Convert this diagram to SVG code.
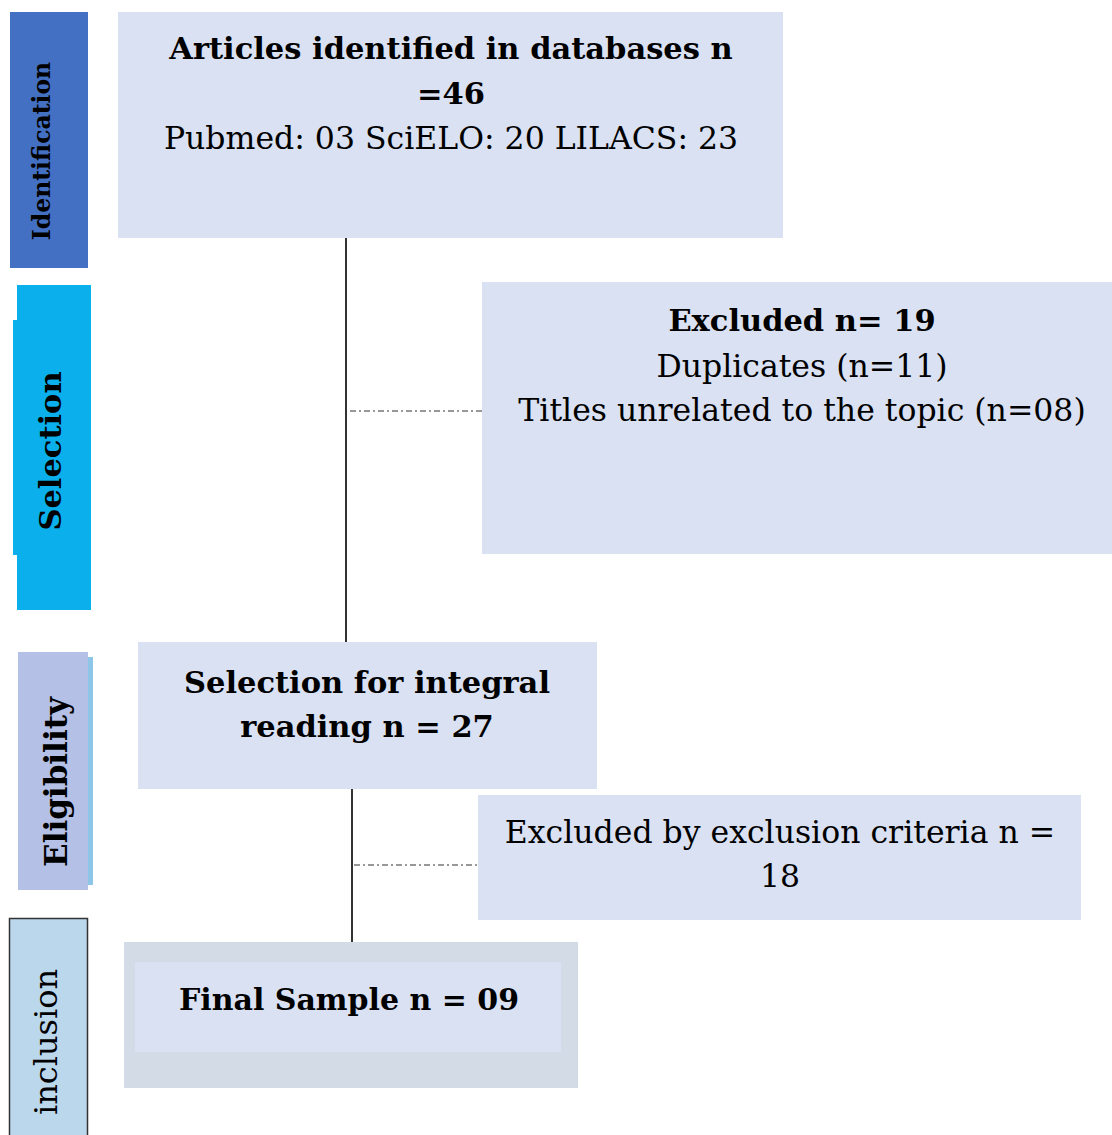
<svg xmlns="http://www.w3.org/2000/svg" width="1112" height="1135" viewBox="0 0 1112 1135">
<style>
.t{font-family:"DejaVu Serif","Liberation Serif",serif;fill:#000;text-anchor:middle;font-size:31.5px}
.b{font-weight:bold;font-size:30.5px}
.box{fill:#D9E1F2}
.side{font-family:"DejaVu Serif","Liberation Serif",serif;fill:#000;text-anchor:middle}
.sb{font-weight:bold}
</style>
<rect width="1112" height="1135" fill="#fff"/>
<g id="stage-identification">
<rect x="10" y="12" width="78" height="256" fill="#4470C4"/>
<text class="side sb" font-size="23.5" transform="translate(50,151) rotate(-90)">Identification</text>
</g>
<g id="stage-selection">
<rect x="17" y="285" width="74" height="325" fill="#0AAFEC"/>
<rect x="13" y="320" width="10" height="235" fill="#0AAFEC"/>
<text class="side sb" font-size="30.5" transform="translate(61,451) rotate(-90)">Selection</text>
</g>
<g id="stage-eligibility">
<rect x="88" y="657" width="5" height="228" fill="#8EC6E8"/>
<rect x="18" y="652" width="70" height="238" fill="#B4C0E6"/>
<text class="side sb" font-size="31" transform="translate(67,782) rotate(-90)">Eligibility</text>
</g>
<g id="stage-inclusion">
<rect x="9.5" y="918.5" width="78" height="220" fill="#BBD7EC" stroke="#333" stroke-width="1.5"/>
<text class="side" font-size="32" transform="translate(57,1042) rotate(-90)">inclusion</text>
</g>
<g id="connectors" fill="none">
<line x1="346" y1="238" x2="346" y2="642" stroke="#333" stroke-width="2"/>
<line x1="350" y1="411" x2="482" y2="411" stroke="#777" stroke-width="1.5" stroke-dasharray="6,3,2,3"/>
<line x1="352" y1="789" x2="352" y2="942" stroke="#333" stroke-width="2"/>
<line x1="354" y1="865" x2="478" y2="865" stroke="#777" stroke-width="1.5" stroke-dasharray="6,3,2,3"/>
</g>
<g id="node-identified">
<rect class="box" x="118" y="12" width="665" height="226"/>
<text class="t b" x="451" y="59">Articles identified in databases n</text>
<text class="t b" x="451" y="104">=46</text>
<text class="t" x="451" y="149">Pubmed: 03 SciELO: 20 LILACS: 23</text>
</g>
<g id="node-excluded1">
<rect class="box" x="482" y="282" width="630" height="272"/>
<text class="t b" x="802" y="331">Excluded n= 19</text>
<text class="t" x="802" y="377">Duplicates (n=11)</text>
<text class="t" x="802" y="421">Titles unrelated to the topic (n=08)</text>
</g>
<g id="node-integral">
<rect class="box" x="138" y="642" width="459" height="147"/>
<text class="t b" x="367" y="693">Selection for integral</text>
<text class="t b" x="367" y="737">reading n = 27</text>
</g>
<g id="node-excluded2">
<rect class="box" x="478" y="795" width="603" height="125"/>
<text class="t" x="780" y="843">Excluded by exclusion criteria n =</text>
<text class="t" x="780" y="887">18</text>
</g>
<g id="node-final">
<rect x="124" y="942" width="454" height="146" fill="#D3DCE6"/>
<rect class="box" x="135" y="962" width="426" height="90"/>
<text class="t b" x="349" y="1010" style="font-size:30px">Final Sample n = 09</text>
</g>
</svg>
